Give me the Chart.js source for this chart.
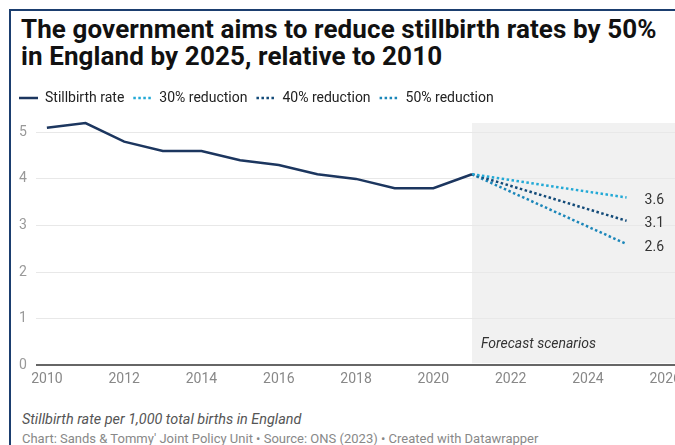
<!DOCTYPE html>
<html>
<head>
<meta charset="utf-8">
<script src="https://cdn.jsdelivr.net/npm/chart.js@4"></script>
<style>
  html, body { margin: 0; padding: 0; background: #fff; overflow: hidden; width: 675px; height: 445px; }
  body { position: relative; font-family: Roboto, "Noto Sans", sans-serif; }
  .marco { position: absolute; left: 9px; top: 9px; width: 720px; height: 500px;
           border-left: 2px solid #1b3e6f; border-top: 2px solid #1b3e6f; }
  h1 { position: absolute; left: 21px; top: 16px; margin: 0; white-space: nowrap;
       font: 700 26px/27px Roboto, sans-serif; color: #111; letter-spacing: 0.1px; }
  .grafico { position: absolute; left: 0; top: 82px; width: 700px; height: 312px; }
  .nota { position: absolute; left: 22px; top: 411px; font: italic 14.4px Roboto, sans-serif; color: #555; }
  .credito { position: absolute; left: 22px; top: 431px; font: 13px Roboto, sans-serif; color: #888; white-space: nowrap; }
</style>
</head>
<body>
<div class="marco"></div>
<h1>The government aims to reduce stillbirth rates by 50%<br>in England by 2025, relative to 2010</h1>
<div class="grafico"><canvas id="graficoTasa"></canvas></div>
<div class="nota">Stillbirth rate per 1,000 total births in England</div>
<div class="credito">Chart: Sands &amp; Tommy' Joint Policy Unit • Source: ONS (2023) • Created with Datawrapper</div>

<script>
// Datos
const anios = [2010, 2011, 2012, 2013, 2014, 2015, 2016, 2017, 2018, 2019, 2020, 2021];
const tasaMortinatos = [5.1, 5.2, 4.8, 4.6, 4.6, 4.4, 4.3, 4.1, 4.0, 3.8, 3.8, 4.1];

const aniosPrevision = [2021, 2025];
const reduccion30 = [4.1, 3.6];
const reduccion40 = [4.1, 3.1];
const reduccion50 = [4.1, 2.6];

const ticksX = [2010, 2012, 2014, 2016, 2018, 2020, 2022, 2024, 2026];
const ticksY = [0, 1, 2, 3, 4, 5];
const inicioPrevision = 2021;

function puntos(xs, ys) {
  return xs.map((x, i) => ({ x: x, y: ys[i] }));
}

// Banda gris de escenarios + etiquetas finales
const pluginPrevision = {
  id: 'prevision',
  beforeInit(chart) {
    // Separar un poco la leyenda del area del grafico
    const fitOriginal = chart.legend.fit;
    chart.legend.fit = function () {
      fitOriginal.bind(chart.legend)();
      this.height += 8;
    };
  },
  beforeDraw(chart) {
    const { ctx, chartArea, scales } = chart;
    const x0 = scales.x.getPixelForValue(inicioPrevision);
    const yCero = scales.y.getPixelForValue(0);
    ctx.save();
    ctx.fillStyle = '#f1f1f1';
    ctx.fillRect(x0, chartArea.top, chartArea.right - x0 + 20, yCero - chartArea.top - 2);
    ctx.restore();
  },
  afterDatasetsDraw(chart) {
    const { ctx, scales } = chart;
    const x0 = scales.x.getPixelForValue(inicioPrevision);
    const yCero = scales.y.getPixelForValue(0);
    ctx.save();
    ctx.font = 'italic 14px Roboto, sans-serif';
    ctx.fillStyle = '#333';
    ctx.textBaseline = 'middle';
    ctx.fillText('Forecast scenarios', x0 + 9, yCero - 21);

    ctx.font = '14px Roboto, sans-serif';
    [1, 2, 3].forEach(i => {
      const ds = chart.data.datasets[i];
      const ultimo = ds.data[ds.data.length - 1];
      const px = scales.x.getPixelForValue(ultimo.x);
      const py = scales.y.getPixelForValue(ultimo.y);
      ctx.fillText(ultimo.y.toFixed(1), px + 18, py + 3);
    });
    ctx.restore();
  }
};

const ctx = document.getElementById('graficoTasa');
new Chart(ctx.getContext('2d'), {
  type: 'line',
  data: {
    datasets: [
      {
        label: 'Stillbirth rate',
        data: puntos(anios, tasaMortinatos),
        borderColor: '#1c365f',
        backgroundColor: '#1c365f',
        borderWidth: 2.5,
        pointRadius: 0,
        pointStyle: 'line',
        tension: 0,
        clip: 4
      },
      {
        label: '30% reduction',
        data: puntos(aniosPrevision, reduccion30),
        borderColor: '#22a9d6',
        backgroundColor: '#22a9d6',
        borderWidth: 2.5,
        borderDash: [2.5, 2.5],
        pointRadius: 0,
        pointStyle: 'line'
      },
      {
        label: '40% reduction',
        data: puntos(aniosPrevision, reduccion40),
        borderColor: '#124a78',
        backgroundColor: '#124a78',
        borderWidth: 2.5,
        borderDash: [2.5, 2.5],
        pointRadius: 0,
        pointStyle: 'line'
      },
      {
        label: '50% reduction',
        data: puntos(aniosPrevision, reduccion50),
        borderColor: '#1b86b9',
        backgroundColor: '#1b86b9',
        borderWidth: 2.5,
        borderDash: [2.5, 2.5],
        pointRadius: 0,
        pointStyle: 'line'
      }
    ]
  },
  options: {
    responsive: true,
    maintainAspectRatio: false,
    animation: false,
    layout: { padding: { left: 10, right: 0, top: 0, bottom: 0 } },
    plugins: {
      legend: {
        display: true,
        align: 'start',
        labels: {
          usePointStyle: true,
          pointStyleWidth: 19,
          boxHeight: 8,
          padding: 9,
          color: '#222',
          font: { family: 'Roboto', size: 14 },
          generateLabels(chart) {
            const items = Chart.defaults.plugins.legend.labels.generateLabels(chart);
            items.forEach(it => {
              const ds = chart.data.datasets[it.datasetIndex];
              it.lineDash = ds.borderDash || [];
              it.lineWidth = ds.borderWidth;
              it.strokeStyle = ds.borderColor;
            });
            return items;
          }
        }
      },
      tooltip: { enabled: false }
    },
    scales: {
      x: {
        type: 'linear',
        min: 2009.715,
        max: 2026.9,
        afterBuildTicks: axis => { axis.ticks = ticksX.map(v => ({ value: v })); },
        grid: { display: false, drawTicks: false },
        border: { display: false },
        ticks: {
          color: '#888',
          padding: 6,
          maxRotation: 0,
          font: { family: 'Roboto', size: 14 },
          callback: v => String(v)
        }
      },
      y: {
        min: 0,
        max: 5.2,
        afterBuildTicks: axis => { axis.ticks = ticksY.map(v => ({ value: v })); },
        grid: {
          drawTicks: false,
          color: c => c.tick && c.tick.value === 0 ? '#666' : '#e8e8e8',
          lineWidth: c => c.tick && c.tick.value === 0 ? 2 : 1
        },
        border: { display: false },
        ticks: {
          color: '#999',
          padding: 9,
          font: { family: 'Roboto', size: 14 }
        }
      }
    }
  },
  plugins: [pluginPrevision]
});
</script>
</body>
</html>
